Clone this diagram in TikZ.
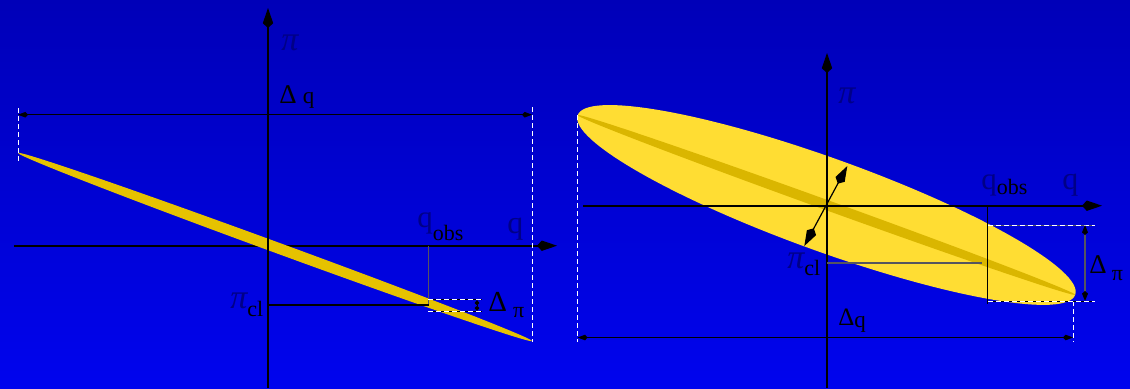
\documentclass[tikz,border=0pt]{standalone}
\usepackage{fontspec}
\setmainfont{Liberation Serif}
\usetikzlibrary{arrows.meta}
\definecolor{bgtop}{RGB}{0,0,184}
\definecolor{bgbot}{RGB}{0,4,238}
\definecolor{navy}{RGB}{0,0,135}
\definecolor{band}{RGB}{230,194,0}
\definecolor{stripe}{RGB}{218,182,0}
\definecolor{ell}{RGB}{255,221,51}
\definecolor{guide}{RGB}{85,85,95}
\begin{document}
\begin{tikzpicture}[x=0.5pt,y=-0.5pt,
  axis/.style={line width=0.8pt,-{Kite[length=10pt,width=5.2pt,inset=2.4pt]}},
  bigdbl/.style={line width=0.6pt,{Kite[length=10pt,width=5.2pt,inset=2.4pt]}-{Kite[length=10pt,width=5.2pt,inset=2.4pt]}},
  dimline/.style={line width=0.75pt,{Kite[length=5pt,width=2.8pt,inset=1.3pt]}-{Kite[length=5pt,width=2.8pt,inset=1.3pt]}},
  tinydim/.style={line width=0.5pt,{Kite[length=2.6pt,width=2.4pt,inset=1.1pt]}-{Kite[length=2.6pt,width=2.4pt,inset=1.1pt]}},
  extent/.style={white,line width=0.5pt,dash pattern=on 2.5pt off 1.5pt},
  under/.style={line width=0.5pt},
  thin/.style={line width=0.55pt},
  lab/.style={inner sep=0pt,anchor=base west},
]
\useasboundingbox (0,0) rectangle (1130,388);
\shade[top color=bgtop,bottom color=bgbot] (0,0) rectangle (1130,388);

% ================= left panel =================
\coordinate (LyB) at (268,388);
\coordinate (LyT) at (268,8);
\coordinate (LxL) at (14,245.7);
\coordinate (LxR) at (557,245.7);
\draw[axis] (LxL) -- (LxR);

\coordinate (Lc) at (275,247);
\fill[band,rotate around={-20.1:(Lc)}] (Lc) ellipse [x radius=273.6, y radius=5.4];

\draw[axis] (LyB) -- (LyT);

% extents and Delta q
\coordinate (LeAt) at (18,108);   \coordinate (LeAb) at (18,162);
\coordinate (LeBt) at (532,107);  \coordinate (LeBb) at (532,342);
\draw[extent] (LeAt) -- (LeAb);
\draw[extent] (LeBt) -- (LeBb);
\coordinate (LdqA) at (18,114.7); \coordinate (LdqB) at (532,114.7);
\draw[dimline] (LdqA) -- (LdqB);

% q_obs / pi_cl guides
\coordinate (LqF) at (428.5,245.7);
\coordinate (Lk) at (428.5,305);
\coordinate (LpF) at (268,305);
\draw[thin,guide] (LqF) -- (Lk);
\draw[thin,black] (LpF) -- (Lk);

% Delta pi
\coordinate (Ld1a) at (428,299.5); \coordinate (Ld1b) at (482,299.5);
\coordinate (Ld2a) at (428,311.3); \coordinate (Ld2b) at (482,311.3);
\draw[under] (Ld1a) -- (Ld1b);
\draw[under] (Ld2a) -- (Ld2b);
\draw[extent] (Ld1a) -- (Ld1b);
\draw[extent] (Ld2a) -- (Ld2b);
\coordinate (La1) at (477,300); \coordinate (La2) at (477,311);
\draw[tinydim] (La1) -- (La2);

% labels
\node[lab,navy,font=\fontsize{17}{17}\selectfont\itshape] (Lpi) at (281,50) {π};
\node[lab] (Ldq) at (279,103) {\fontsize{13.5}{13.5}\selectfont Δ\kern3pt\fontsize{11.5}{11.5}\selectfont q};
\node[lab] (Lqobs) at (417,227) {{\color{navy}\fontsize{15.5}{15.5}\selectfont q}\raisebox{-6.5pt}{\fontsize{11}{11}\selectfont obs}};
\node[lab,navy,font=\fontsize{16}{16}\selectfont] (Lq) at (507,233) {q};
\node[lab] (Lpicl) at (230,308) {{\color{navy}\fontsize{17}{17}\selectfont\itshape π}\raisebox{-4.2pt}{\fontsize{11}{11}\selectfont cl}};
\node[lab] (Ldpi) at (488,311) {\fontsize{14.5}{14.5}\selectfont Δ\kern3pt\raisebox{-3pt}{\fontsize{11}{11}\selectfont π}};

% ================= right panel =================
\coordinate (Rc) at (826.5,205);
\fill[ell,rotate around={-19.85:(Rc)}] (Rc) ellipse [x radius=264.5, y radius=46.5];
\fill[stripe,rotate around={-19.85:(Rc)}] (Rc) ellipse [x radius=264.5, y radius=5];

\coordinate (RyB) at (827,388);
\coordinate (RyT) at (827,53);
\coordinate (RxL) at (583,205.7);
\coordinate (RxR) at (1102,205.7);
\draw[axis] (RyB) -- (RyT);
\draw[axis] (RxL) -- (RxR);

% extents and Delta q
\coordinate (ReAt) at (577.6,115);  \coordinate (ReAb) at (577.6,342);
\coordinate (ReBt) at (1073,301);   \coordinate (ReBb) at (1073,342);
\draw[extent] (ReAt) -- (ReAb);
\draw[extent] (ReBt) -- (ReBb);
\coordinate (RdqA) at (577.6,337.5); \coordinate (RdqB) at (1073,337.5);
\draw[dimline] (RdqA) -- (RdqB);

% guides
\coordinate (RqF) at (987.7,205.7);
\coordinate (RqE) at (987.7,304);
\draw[thin,black] (RqF) -- (RqE);
\coordinate (RpF) at (827,262.7);
\coordinate (RpE) at (982,262.7);
\draw[line width=0.8pt,guide] (RpF) -- (RpE);

% Delta pi
\coordinate (Rd1a) at (988,225); \coordinate (Rd1b) at (1095,225);
\coordinate (Rd2a) at (988,301); \coordinate (Rd2b) at (1095,301);
\draw[under,guide] (Rd1a) -- (Rd1b);
\draw[under] (Rd2a) -- (Rd2b);
\draw[extent] (Rd1a) -- (Rd1b);
\draw[extent] (Rd2a) -- (Rd2b);
\coordinate (Ra1) at (1085,225); \coordinate (Ra2) at (1085,301);
\draw[draw=guide,line width=0.8pt,{Kite[length=5pt,width=3pt,inset=1.3pt,color=black]}-{Kite[length=5pt,width=3pt,inset=1.3pt,color=black]}] (Ra1) -- (Ra2);

% diagonal width arrow
\coordinate (Rw1) at (804.3,246);
\coordinate (Rw2) at (847.3,166);
\draw[bigdbl] (Rw1) -- (Rw2);

% labels
\node[lab,navy,font=\fontsize{17}{17}\selectfont\itshape] (Rpi) at (838,103) {π};
\node[lab] (Rqobs) at (981,189) {{\color{navy}\fontsize{15.5}{15.5}\selectfont q}\raisebox{-2.5pt}{\fontsize{11}{11}\selectfont obs}};
\node[lab,navy,font=\fontsize{16}{16}\selectfont] (Rq) at (1062,189) {q};
\node[lab] (Rpicl) at (787,268) {{\color{navy}\fontsize{17}{17}\selectfont\itshape π}\raisebox{-3.5pt}{\fontsize{11}{11}\selectfont cl}};
\node[lab] (Rdpi) at (1089,273) {\fontsize{13.5}{13.5}\selectfont Δ\kern2.5pt\raisebox{-3.5pt}{\fontsize{11}{11}\selectfont π}};
\node[lab] (Rdq) at (838,325) {\fontsize{12.5}{12.5}\selectfont Δ\raisebox{-1pt}{\fontsize{11.5}{11.5}\selectfont q}};
\end{tikzpicture}
\end{document}
